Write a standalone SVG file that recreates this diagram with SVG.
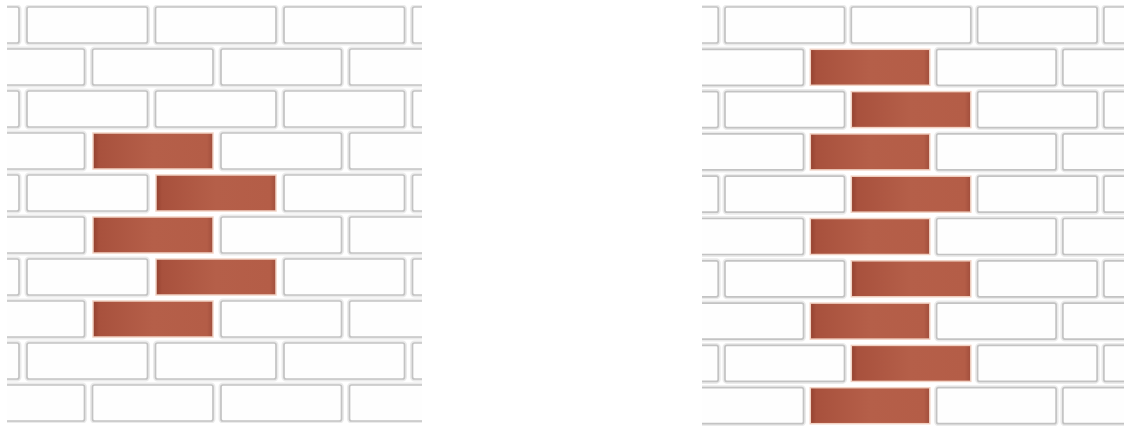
<svg xmlns="http://www.w3.org/2000/svg" width="1124" height="426" viewBox="0 0 1124 426">
<style>
.b{fill:#fefefe;stroke:#c3c3c3;stroke-width:1.7}
.h{fill:none;stroke:#ebebeb;stroke-width:5}
.r{fill:url(#red);stroke:#f1d2c4;stroke-width:1.5}
</style>
<defs>
<linearGradient id="red" x1="0" y1="0" x2="1" y2="0">
<stop offset="0" stop-color="#94412f"/>
<stop offset="0.05" stop-color="#a8513d"/>
<stop offset="0.5" stop-color="#b55f49"/>
<stop offset="0.95" stop-color="#b45d47"/>
<stop offset="1" stop-color="#a04e3c"/>
</linearGradient>
<filter id="soft" x="-5%" y="-5%" width="110%" height="110%"><feGaussianBlur stdDeviation="0.6"/></filter>
<clipPath id="cl"><rect x="7" y="5" width="415" height="418"/></clipPath>
<clipPath id="cr"><rect x="702" y="5" width="422" height="421"/></clipPath>
<symbol id="wl" overflow="visible"><rect class="h" x="0" y="0" width="120.5" height="36" rx="2"/><rect class="b" x="0" y="0" width="120.5" height="36" rx="2"/></symbol>
<symbol id="wr" overflow="visible"><rect class="h" x="0" y="0" width="119.5" height="36" rx="2"/><rect class="b" x="0" y="0" width="119.5" height="36" rx="2"/></symbol>
</defs>
<rect width="1124" height="426" fill="#ffffff"/>
<g id="wall-left" clip-path="url(#cl)">
<g filter="url(#soft)">
<use href="#wl" x="-101.5" y="7"/><use href="#wl" x="27" y="7"/><use href="#wl" x="155.5" y="7"/><use href="#wl" x="284" y="7"/><use href="#wl" x="412.5" y="7"/>
<use href="#wl" x="-36" y="49"/><use href="#wl" x="92.5" y="49"/><use href="#wl" x="221" y="49"/><use href="#wl" x="349.5" y="49"/>
<use href="#wl" x="-101.5" y="91"/><use href="#wl" x="27" y="91"/><use href="#wl" x="155.5" y="91"/><use href="#wl" x="284" y="91"/><use href="#wl" x="412.5" y="91"/>
<use href="#wl" x="-36" y="133"/><use href="#wl" x="221" y="133"/><use href="#wl" x="349.5" y="133"/>
<use href="#wl" x="-101.5" y="175"/><use href="#wl" x="27" y="175"/><use href="#wl" x="284" y="175"/><use href="#wl" x="412.5" y="175"/>
<use href="#wl" x="-36" y="217"/><use href="#wl" x="221" y="217"/><use href="#wl" x="349.5" y="217"/>
<use href="#wl" x="-101.5" y="259"/><use href="#wl" x="27" y="259"/><use href="#wl" x="284" y="259"/><use href="#wl" x="412.5" y="259"/>
<use href="#wl" x="-36" y="301"/><use href="#wl" x="221" y="301"/><use href="#wl" x="349.5" y="301"/>
<use href="#wl" x="-101.5" y="343"/><use href="#wl" x="27" y="343"/><use href="#wl" x="155.5" y="343"/><use href="#wl" x="284" y="343"/><use href="#wl" x="412.5" y="343"/>
<use href="#wl" x="-36" y="385"/><use href="#wl" x="92.5" y="385"/><use href="#wl" x="221" y="385"/><use href="#wl" x="349.5" y="385"/>
</g>
<g id="red-left">
<rect class="r" x="93" y="133" width="120" height="36"/>
<rect class="r" x="156" y="175" width="120" height="36"/>
<rect class="r" x="93" y="217" width="120" height="36"/>
<rect class="r" x="156" y="259" width="120" height="36"/>
<rect class="r" x="93" y="301" width="120" height="36"/>
</g>
</g>
<g id="wall-right" clip-path="url(#cr)">
<g filter="url(#soft)">
<use href="#wr" x="598.7" y="7"/><use href="#wr" x="725" y="7"/><use href="#wr" x="851.3" y="7"/><use href="#wr" x="977.6" y="7"/><use href="#wr" x="1103.9" y="7"/>
<use href="#wr" x="684" y="49.3"/><use href="#wr" x="936.6" y="49.3"/><use href="#wr" x="1062.9" y="49.3"/>
<use href="#wr" x="598.7" y="91.6"/><use href="#wr" x="725" y="91.6"/><use href="#wr" x="977.6" y="91.6"/><use href="#wr" x="1103.9" y="91.6"/>
<use href="#wr" x="684" y="133.9"/><use href="#wr" x="936.6" y="133.9"/><use href="#wr" x="1062.9" y="133.9"/>
<use href="#wr" x="598.7" y="176.2"/><use href="#wr" x="725" y="176.2"/><use href="#wr" x="977.6" y="176.2"/><use href="#wr" x="1103.9" y="176.2"/>
<use href="#wr" x="684" y="218.5"/><use href="#wr" x="936.6" y="218.5"/><use href="#wr" x="1062.9" y="218.5"/>
<use href="#wr" x="598.7" y="260.8"/><use href="#wr" x="725" y="260.8"/><use href="#wr" x="977.6" y="260.8"/><use href="#wr" x="1103.9" y="260.8"/>
<use href="#wr" x="684" y="303.1"/><use href="#wr" x="936.6" y="303.1"/><use href="#wr" x="1062.9" y="303.1"/>
<use href="#wr" x="598.7" y="345.4"/><use href="#wr" x="725" y="345.4"/><use href="#wr" x="977.6" y="345.4"/><use href="#wr" x="1103.9" y="345.4"/>
<use href="#wr" x="684" y="387.7"/><use href="#wr" x="936.6" y="387.7"/><use href="#wr" x="1062.9" y="387.7"/>
</g>
<g id="red-right">
<rect class="r" x="810.3" y="49.3" width="119.5" height="36"/>
<rect class="r" x="851.3" y="91.6" width="119.5" height="36"/>
<rect class="r" x="810.3" y="133.9" width="119.5" height="36"/>
<rect class="r" x="851.3" y="176.2" width="119.5" height="36"/>
<rect class="r" x="810.3" y="218.5" width="119.5" height="36"/>
<rect class="r" x="851.3" y="260.8" width="119.5" height="36"/>
<rect class="r" x="810.3" y="303.1" width="119.5" height="36"/>
<rect class="r" x="851.3" y="345.4" width="119.5" height="36"/>
<rect class="r" x="810.3" y="387.7" width="119.5" height="36"/>
</g>
</g>
</svg>
